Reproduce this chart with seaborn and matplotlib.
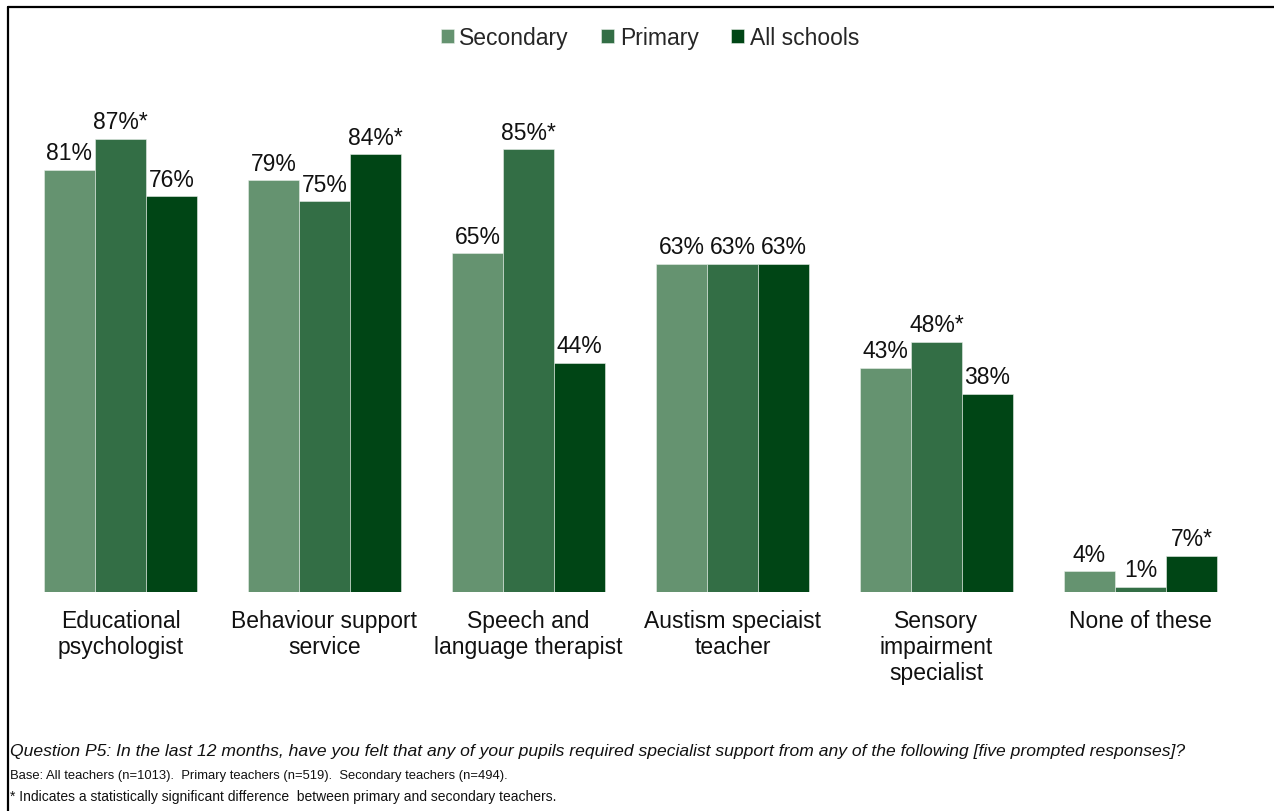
import matplotlib
matplotlib.use("Agg")
import matplotlib.pyplot as plt
from matplotlib.lines import Line2D
import seaborn as sns
import pandas as pd

categories = [
    "Educational\npsychologist",
    "Behaviour support\nservice",
    "Speech and\nlanguage therapist",
    "Austism speciaist\nteacher",
    "Sensory\nimpairment\nspecialist",
    "None of these",
]
series_names = ["Secondary", "Primary", "All schools"]
secondary = [81, 79, 65, 63, 43, 4]
primary = [87, 75, 85, 63, 48, 1]
all_schools = [76, 84, 44, 63, 38, 7]
# significance markers (* = significant difference primary vs secondary)
secondary_sig = ["", "", "", "", "", ""]
primary_sig = ["*", "", "*", "", "*", ""]
all_sig = ["", "*", "", "", "", "*"]

colors = ["#659370", "#336e45", "#004515"]

footnotes = [
    "Question P5: In the last 12 months, have you felt that any of your pupils required specialist support from any of the following [five prompted responses]?",
    "Base: All teachers (n=1013).  Primary teachers (n=519).  Secondary teachers (n=494).",
    "* Indicates a statistically significant difference  between primary and secondary teachers.",
]

rows = []
for name, vals in zip(series_names, [secondary, primary, all_schools]):
    for cat, v in zip(categories, vals):
        rows.append({"category": cat, "series": name, "value": v})
df = pd.DataFrame(rows)

sns.set_theme(style="white")
plt.rcParams["font.family"] = ["Liberation Sans", "DejaVu Sans"]

fig = plt.figure(figsize=(12.74, 8.12), dpi=100)
ax = fig.add_axes([0.01452, 0.2697, 0.9607, 0.6416])

sns.barplot(
    data=df, x="category", y="value", hue="series",
    order=categories, hue_order=series_names, palette=colors,
    width=0.75, gap=0, edgecolor="#e8efe9", linewidth=0.4,
    saturation=1, ax=ax, legend=True,
)

for cont, vals, sig in zip(ax.containers, [secondary, primary, all_schools],
                           [secondary_sig, primary_sig, all_sig]):
    labels = [f"{v}%{s}" for v, s in zip(vals, sig)]
    ax.bar_label(cont, labels=labels, padding=4, fontsize=16.5, color="#111111")

ax.set_xlim(-0.5, 5.5)
ax.set_ylim(0, 100)
ax.set_xlabel("")
ax.set_ylabel("")
ax.set_yticks([])
ax.tick_params(axis="x", length=0, pad=12.5, labelsize=16.5, colors="#111111")
for lbl in ax.get_xticklabels():
    lbl.set_linespacing(1.15)
for sp in ax.spines.values():
    sp.set_visible(False)

handles, labels = ax.get_legend_handles_labels()
ax.get_legend().remove()
fig.legend(
    handles, labels, loc="center", bbox_to_anchor=(0.51, 0.953),
    ncol=3, frameon=False, fontsize=16.5, handlelength=0.57, handleheight=0.57,
    handletextpad=0.25, columnspacing=1.4,
)

ys = [752, 776, 797]
sizes = [12.6, 9.4, 10.0]
for i, (txt, y, fs) in enumerate(zip(footnotes, ys, sizes)):
    fig.text(10 / 1274, 1 - y / 812, txt, fontsize=fs, va="center", ha="left",
             style="italic" if i == 0 else "normal", color="#111111")

# frame lines along the top and left edges
fig.add_artist(Line2D([7.5 / 1274, 1], [1 - 7.5 / 812, 1 - 7.5 / 812],
                      transform=fig.transFigure, color="black", linewidth=1.6))
fig.add_artist(Line2D([7.5 / 1274, 7.5 / 1274], [0, 1 - 7.5 / 812],
                      transform=fig.transFigure, color="black", linewidth=1.6))

fig.savefig("out.png", dpi=100, facecolor="white")
